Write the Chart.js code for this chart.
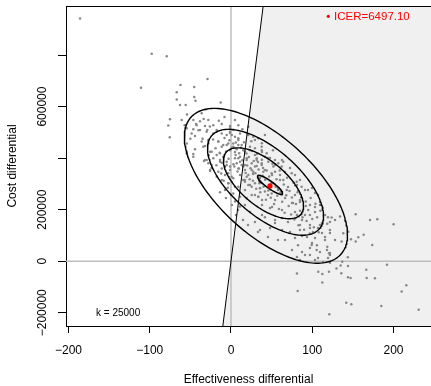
<!DOCTYPE html>
<html>
<head>
<meta charset="utf-8">
<script src="https://cdn.jsdelivr.net/npm/chart.js@4.4.1/dist/chart.umd.min.js"></script>
<style>
    html, body { margin: 0; padding: 0; background: #fff; }
</style>
</head>
<body>
<canvas id="plane" width="431" height="386"></canvas>
<script>
// axes
var xTicks = [-200, -100, 0, 100, 200];
var yTicks = [-200000, 0, 200000, 400000, 600000, 800000];
var yTickLabels = ["\u2212200000", "0", "200000", "", "600000", ""];   // R drops the crowded ones
var xRange = [-203.1, 246.2];
var yRange = [-251500, 990300];

var wtp = 25000;
var icer = [48, 292000];
var icerText = "ICER=6497.10";

// contours: centre, half extents, correlation
var contourEff = [43, 42.5, 40, 48];
var contourCost = [292600, 306200, 302300, 296500];
var contourHalfEff = [100.4, 71.4, 49.3, 15.5];
var contourHalfCost = [300400, 205400, 137600, 36800];
var contourCorr = [-0.63, -0.64, -0.64, -0.89];

// simulations [effectiveness diff, cost diff]
var simsOutlying = [
    [-185.8, 942000], [-97.6, 805000], [-79.1, 795000], [-110.8, 673000], [-28.9, 707000],
    [-62.2, 684000], [-45.2, 676000], [-66.8, 656000], [-45.2, 637000], [-43.7, 623000],
    [-66.8, 627000], [-62.8, 606000], [-55.8, 606000], [-12.7, 616000], [-31.4, 589000],
    [-54.2, 569000], [-36.1, 574000], [-75.1, 551000], [-77.2, 527000], [-75.4, 481000]
];
var simsUpperLeft = [
    [-60.7, 548000], [-46.4, 548000], [-38.2, 543000], [-27.9, 548000], [-57, 528000],
    [-42.2, 528000], [-32, 525000], [-21.8, 528000], [-11.4, 532000], [-1.2, 525000],
    [9, 528000], [-46.4, 512000], [-38.2, 509000], [-29.2, 509000], [-17.6, 509000],
    [-48.4, 496000], [-44.3, 486000], [0.9, 490000], [-54.5, 457000], [-36, 464000],
    [-27.9, 470000], [-15.6, 464000], [-1.2, 497000], [9, 477000], [-44.3, 434000],
    [-32, 447000], [-11.4, 444000], [-5.3, 451000], [2.8, 457000], [13.2, 451000],
    [-46.4, 405000], [-23.8, 425000], [-17.6, 412000], [-1.2, 431000], [4.9, 424000],
    [17.2, 425000], [23.4, 431000], [-29.9, 393000], [-13.5, 393000], [-5.3, 386000],
    [4.9, 399000], [11.1, 405000], [19.3, 393000], [31.6, 399000], [37.8, 380000],
    [45.5, 400000], [-25.8, 354000], [-11.4, 360000], [-1.2, 367000], [9, 360000],
    [17.2, 373000], [25.5, 354000], [31.6, 369000], [39.4, 362000], [-17.6, 328000],
    [-3.3, 341000], [2.8, 322000], [11.1, 334000], [19.3, 328000], [27.1, 338000],
    [35.7, 323000], [-3.3, 302000], [9, 289000], [17.2, 308000], [23.4, 296000],
    [-54.5, 516000], [-46.4, 416000], [-54.5, 419000], [-33.2, 389000], [-25.8, 425000],
    [-21.8, 496000], [-43, 532000], [-33.6, 552000], [-34.1, 444000], [-27.9, 457000]
];
var simsCore = [
    [-17.6, 502000], [-11.4, 496000], [-5.3, 490000], [-1.2, 502000], [4.9, 483000],
    [11.1, 496000], [21.3, 490000], [27.4, 483000], [33.6, 477000], [41.8, 490000],
    [51.7, 431000], [-15.6, 464000], [-9.5, 451000], [-3.3, 457000], [2.8, 444000],
    [9, 451000], [15.1, 431000], [23.4, 444000], [29.5, 438000], [37.8, 431000],
    [43.9, 419000], [5.7, 412000], [9, 399000], [11.1, 386000], [7, 380000],
    [13.2, 373000], [4.1, 367000], [9.8, 360000], [-9.5, 405000], [-13.5, 386000],
    [-7.4, 367000], [-1.2, 354000], [-15.6, 347000], [-7.4, 334000], [0.9, 328000],
    [-11.4, 315000], [-3.3, 302000], [4.9, 289000], [-7.4, 276000], [2.8, 263000],
    [11.1, 250000], [19.3, 399000], [25.5, 380000], [31.6, 393000], [37.8, 373000],
    [45.9, 386000], [52.1, 367000], [58.2, 380000], [64.4, 386000], [17.2, 354000],
    [21.3, 334000], [27.4, 347000], [33.6, 328000], [39.8, 347000], [54.2, 347000],
    [60.3, 334000], [64.4, 315000], [15.1, 315000], [21.3, 296000], [29.5, 302000],
    [35.7, 283000], [41.8, 270000], [50.1, 263000], [58.2, 283000], [62.4, 257000],
    [17.2, 276000], [25.5, 257000], [33.6, 250000], [19.3, 244000], [21.3, 522000],
    [4.9, 548000], [-1.2, 516000], [9, 470000], [29.5, 470000], [41.8, 405000],
    [37.8, 444000], [54.2, 393000], [62.4, 367000], [74.7, 341000], [80.9, 308000],
    [87, 289000], [94.8, 276000], [103.4, 265000], [50.1, 341000], [68.6, 276000],
    [78.8, 257000], [29.5, 367000], [17.2, 315000], [25.5, 289000], [33.6, 250000]
];
var simsCoreDense = [
    [-22, 472000], [-19, 438000], [-14, 421000], [-8, 478000], [-6, 426000],
    [-3, 398000], [-2, 469000], [1, 441000], [3, 376000], [6, 461000],
    [7, 434000], [8, 348000], [10, 419000], [12, 440000], [14, 392000],
    [15, 367000], [16, 462000], [18, 342000], [19, 418000], [20, 371000],
    [22, 404000], [23, 318000], [24, 361000], [26, 428000], [27, 312000],
    [28, 389000], [30, 341000], [31, 281000], [32, 416000], [34, 356000],
    [35, 302000], [36, 268000], [38, 394000], [39, 332000], [40, 289000],
    [42, 316000], [43, 238000], [44, 352000], [46, 274000], [47, 329000],
    [49, 246000], [50, 302000], [51, 378000], [53, 222000], [55, 289000],
    [56, 318000], [57, 254000], [59, 203000], [60, 352000], [61, 268000],
    [63, 231000], [65, 298000], [66, 188000], [68, 256000], [69, 324000],
    [71, 214000], [72, 272000], [74, 181000], [75, 247000], [77, 305000],
    [78, 162000], [80, 222000], [82, 268000], [83, 139000], [85, 196000],
    [87, 248000], [88, 171000], [90, 122000], [92, 232000], [93, 156000],
    [95, 199000], [97, 107000], [98, 245000], [100, 164000], [102, 132000],
    [104, 223000], [106, 171000], [108, 112000], [110, 196000], [112, 148000],
    [-28, 412000], [-24, 362000], [-18, 372000], [-12, 340000], [-9, 312000],
    [-4, 285000], [0, 258000], [5, 232000], [11, 212000], [-35, 475000],
    [-30, 502000], [-26, 523000], [-40, 508000], [-50, 475000], [-15, 545000],
    [-8, 560000], [3, 510000], [14, 512000], [25, 465000], [38, 458000]
];
var simsLowerLeft = [
    [-32, 393000], [-27.9, 380000], [-21.8, 399000], [-13.5, 419000], [-11.4, 382000],
    [-5.3, 373000], [-25.8, 350000], [-13.5, 268000], [-6.2, 245000], [1.2, 218000],
    [8.6, 199000], [17.2, 218000], [23.4, 191000], [14.8, 160000], [29.5, 152000],
    [35.7, 121000], [6.2, 179000], [20.9, 140000], [38.2, 218000], [41.8, 171000],
    [50.5, 210000], [54.2, 148000], [62.8, 168000], [33.2, 113000], [45.5, 94000],
    [66.5, 82000]
];
var simsLowerRight = [
    [29.5, 412000], [38.2, 424000], [48, 400000], [33.2, 385000], [54.2, 373000],
    [62.8, 393000], [72.6, 362000], [41.8, 354000], [50.5, 334000], [66.5, 346000],
    [78.8, 334000], [84.9, 315000], [60.3, 315000], [35.7, 284000], [45.5, 257000],
    [57.8, 276000], [70.2, 288000], [81.2, 296000], [91.1, 276000], [99.7, 284000],
    [107.1, 257000], [29.5, 257000], [38.2, 237000], [54.2, 237000], [66.5, 245000],
    [75.1, 226000], [84.9, 237000], [97.2, 218000], [109.5, 218000], [48, 206000],
    [62.8, 199000], [78.8, 191000], [91.1, 179000], [103.4, 191000], [115.7, 179000],
    [38.2, 179000], [54.2, 160000], [70.2, 152000], [84.9, 140000], [97.2, 129000],
    [109.5, 140000], [121.8, 121000], [72.6, 113000], [87.4, 98000], [103.4, 90000],
    [115.7, 82000], [128, 82000], [82.5, 62000], [97.2, 51000], [109.5, 36000],
    [121.8, 24000], [91.1, 24000], [103.4, 5000], [62.8, 121000], [48, 129000],
    [57.8, 82000], [75.1, 43000], [84.9, 5000], [76.3, 226000], [84.9, 230000],
    [92, 214000], [81.2, 179000], [87.4, 160000], [97.2, 179000], [103.4, 210000],
    [113.2, 206000], [119.4, 171000], [121.8, 152000], [97.2, 140000], [107.1, 129000],
    [100.9, 113000], [84.9, 121000], [78.8, 90000], [93.5, 94000], [112, 109000],
    [115.7, 94000], [121.8, 109000], [99.7, 71000], [105.8, 62000], [118.2, 43000],
    [121.8, 32000], [87.4, 36000], [97.2, 24000], [107.1, 12000], [113.2, -3000],
    [119.4, 12000], [81.2, 16000]
];
var simsTail = [
    [153.5, 182000], [171.1, 160000], [180.1, 163000], [200.2, 143000], [163.3, 103000],
    [173.9, 63000], [156.7, 93000], [153.5, 76000], [147.7, 85000], [138.2, 108000],
    [192, -14000], [215.8, -93000], [210.1, -118000], [231, -188000], [185, -174000],
    [166.5, -33000], [167, -65000], [177.2, -66000], [144, -62000], [147.3, -65000],
    [135.8, -47000], [144, -19000], [137, -2000], [135, -17000], [129.8, -28000],
    [120.6, -41000], [107.4, -41000], [112.4, -50000], [112.4, -83000], [81.2, -48000],
    [82.1, -116000], [141.9, -161000], [148.1, -167000], [121, -206000], [143.8, 15000],
    [121.8, -6000], [120.6, 31000], [118.5, 56000], [105.5, 43000], [99.3, 63000],
    [136.2, 76000], [144.4, 114000], [134.2, 173000], [123.9, 170000], [128, 160000],
    [118.5, 145000]
];

var FONT = '"Liberation Sans", Arial, sans-serif';

function toPoints(list) {
    return list.map(function (p) { return { x: p[0], y: p[1] }; });
}

function ellipse(i) {
    var pts = [];
    var r = contourCorr[i];
    for (var s = 0; s <= 180; s++) {
        var t = s / 180 * 2 * Math.PI;
        var u = Math.cos(t);
        var v = r * Math.cos(t) + Math.sqrt(1 - r * r) * Math.sin(t);
        pts.push({ x: contourEff[i] + contourHalfEff[i] * u, y: contourCost[i] + contourHalfCost[i] * v });
    }
    return pts;
}

var sims = [].concat(simsOutlying, simsUpperLeft, simsCore, simsCoreDense, simsLowerLeft, simsLowerRight, simsTail);

var datasets = [];

// area where k*effect > cost
datasets.push({
    type: 'line', order: 10,
    data: [
        { x: yRange[0] / wtp, y: yRange[0] },
        { x: yRange[1] / wtp, y: yRange[1] },
        { x: xRange[1], y: yRange[1] }
    ],
    fill: 'start', backgroundColor: '#f0f0f0', borderWidth: 0, pointRadius: 0
});
datasets.push({
    type: 'line', order: 9,
    data: [{ x: 0, y: yRange[0] }, { x: 0, y: yRange[1] }],
    borderColor: '#bebebe', borderWidth: 1.5, pointRadius: 0, fill: false
});
datasets.push({
    type: 'line', order: 9,
    data: [{ x: xRange[0], y: 0 }, { x: xRange[1], y: 0 }],
    borderColor: '#bebebe', borderWidth: 1.5, pointRadius: 0, fill: false
});
datasets.push({
    type: 'scatter', order: 8,
    data: toPoints(sims),
    backgroundColor: '#888888', borderWidth: 0, pointRadius: 1.25
});
for (var i = 0; i < contourEff.length; i++) {
    datasets.push({
        type: 'line', order: 5,
        data: ellipse(i),
        borderColor: '#000', borderWidth: 1.4, pointRadius: 0, fill: false, tension: 0
    });
}
datasets.push({
    type: 'line', order: 4,
    data: [{ x: yRange[0] / wtp, y: yRange[0] }, { x: yRange[1] / wtp, y: yRange[1] }],
    borderColor: '#000', borderWidth: 1, pointRadius: 0, fill: false
});
datasets.push({
    type: 'scatter', order: 1,
    data: [{ x: icer[0], y: icer[1] }],
    backgroundColor: '#ff0000', borderWidth: 0, pointRadius: 2.6
});

var overlay = {
    id: 'overlay',
    afterDraw: function (chart) {
        var ctx = chart.ctx, a = chart.chartArea, y = chart.scales.y;
        ctx.save();
        ctx.strokeStyle = '#000';
        ctx.lineWidth = 1;
        ctx.beginPath();
        ctx.moveTo(a.left, a.top + 0.5);
        ctx.lineTo(a.right, a.top + 0.5);
        ctx.stroke();

        ctx.fillStyle = '#000';
        ctx.font = '12px ' + FONT;
        ctx.textAlign = 'center';
        ctx.textBaseline = 'middle';
        yTicks.forEach(function (v, i) {
            if (!yTickLabels[i]) return;
            ctx.save();
            ctx.translate(a.left - 23, y.getPixelForValue(v));
            ctx.rotate(-Math.PI / 2);
            ctx.fillText(yTickLabels[i], 0, 0);
            ctx.restore();
        });

        ctx.textAlign = 'left';
        ctx.font = '10px ' + FONT;
        ctx.fillText('k = ' + wtp, a.left + 30, a.bottom - 12.5);

        ctx.fillStyle = '#ff0000';
        ctx.beginPath();
        ctx.arc(a.right - 102.7, a.top + 10.3, 1.6, 0, 2 * Math.PI);
        ctx.fill();
        ctx.font = '11.5px ' + FONT;
        ctx.fillText(icerText, a.right - 97, a.top + 10.8);
        ctx.restore();
    }
};

new Chart(document.getElementById('plane'), {
    type: 'scatter',
    data: { datasets: datasets },
    options: {
        responsive: false,
        animation: false,
        devicePixelRatio: 1,
        layout: { autoPadding: false, padding: { top: 6, left: 0, right: 0, bottom: 0 } },
        plugins: { legend: { display: false }, tooltip: { enabled: false } },
        scales: {
            x: {
                type: 'linear', min: xRange[0], max: xRange[1],
                afterBuildTicks: function (s) { s.ticks = xTicks.map(function (v) { return { value: v }; }); },
                afterFit: function (s) { s.height = 60; },
                ticks: {
                    color: '#000', padding: 10, font: { size: 12, family: FONT },
                    callback: function (v) { return String(v).replace('-', '\u2212'); }
                },
                grid: { drawOnChartArea: false, drawTicks: true, tickLength: 7, color: '#000' },
                border: { display: true, color: '#000', width: 1 },
                title: {
                    display: true, text: 'Effectiveness differential', color: '#000',
                    font: { size: 12, family: FONT, lineHeight: 1 }, padding: 0
                }
            },
            y: {
                type: 'linear', min: yRange[0], max: yRange[1],
                afterBuildTicks: function (s) { s.ticks = yTicks.map(function (v) { return { value: v }; }); },
                afterFit: function (s) { s.width = 66; },
                ticks: { display: false },
                grid: { drawOnChartArea: false, drawTicks: true, tickLength: 8, color: '#000' },
                border: { display: true, color: '#000', width: 1 },
                title: {
                    display: true, text: 'Cost differential', color: '#000',
                    font: { size: 12, family: FONT, lineHeight: 1 }, padding: { top: 7, bottom: 0 }
                }
            }
        }
    },
    plugins: [overlay]
});
</script>
</body>
</html>
